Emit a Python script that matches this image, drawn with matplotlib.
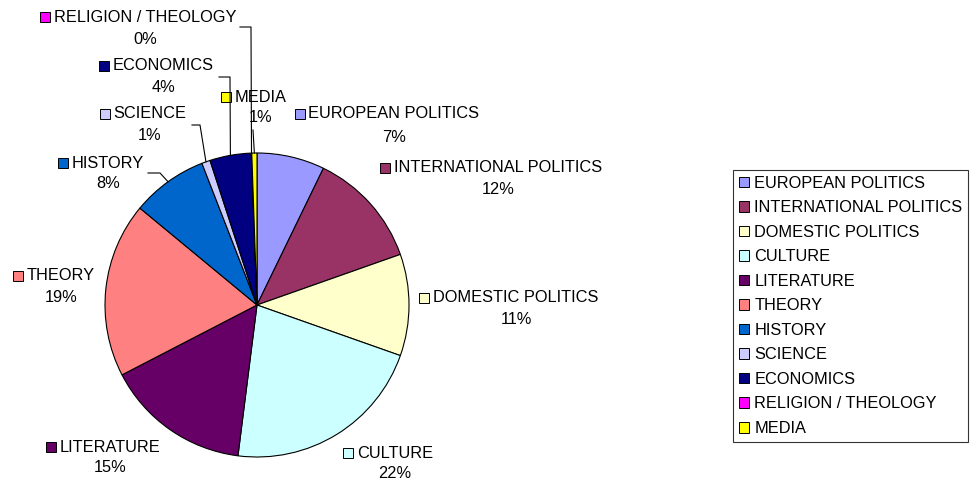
import numpy as np
import matplotlib
matplotlib.use('Agg')
import matplotlib.pyplot as plt
from matplotlib.patches import Patch, Rectangle
from matplotlib.lines import Line2D

# data
categories = ['EUROPEAN POLITICS', 'INTERNATIONAL POLITICS', 'DOMESTIC POLITICS',
              'CULTURE', 'LITERATURE', 'THEORY', 'HISTORY', 'SCIENCE',
              'ECONOMICS', 'RELIGION / THEOLOGY', 'MEDIA']
values = [7.2, 12.4, 10.8, 21.6, 15.4, 18.6, 8.1, 0.9, 4.4, 0.05, 0.55]
colors = ['#9999FF', '#993366', '#FFFFCC', '#CCFFFF', '#660066', '#FF8080',
          '#0066CC', '#CCCCFF', '#000080', '#FF00FF', '#FFFF00']

# label layout in pixels from top-left: (text centre x, name y, percent y)
label_pos = [(394, 114, 137), (498, 168, 190), (516, 298, 319), (395, 453, 473),
             (110, 447, 468), (61, 276, 297), (108, 163, 184), (150, 114, 136),
             (163, 66, 87), (145, 17, 39), (261, 97, 118)]
# leader line elbows (pixels) for the small slices
leaders = {6: [(148, 173), (160, 173)], 7: [(192, 125), (200, 125)],
           8: [(219, 77), (230, 77)], 9: [(240, 27), (251, 27)],
           10: [(253, 130)]}

plt.rcParams['font.family'] = ['Liberation Sans', 'DejaVu Sans']
FS = 11.8

W, H = 975, 483
fig = plt.figure(figsize=(W / 100, H / 100), dpi=100)


def px(x, y):
    return x / W, 1 - y / H


# pie centre (257, 305), radius 152 px
cx, cy, r = 257, 305, 152
ax = fig.add_axes([(cx - r) / W, 1 - (cy + r) / H, 2 * r / W, 2 * r / H])
ax.pie(values, colors=colors, startangle=90, counterclock=False, radius=1,
       wedgeprops=dict(edgecolor='black', linewidth=0.8))
ax.set_xlim(-1, 1)
ax.set_ylim(-1, 1)
ax.axis('off')

total = sum(values)
renderer = fig.canvas.get_renderer()
sq = 10
for i, name in enumerate(categories):
    x, yn, yp = label_pos[i]
    t = fig.text(*px(x, yn), name, ha='center', va='center', fontsize=FS)
    fig.text(*px(x, yp), f'{round(values[i] / total * 100)}%', ha='center',
             va='center', fontsize=FS)
    bb = t.get_window_extent(renderer)
    left = bb.x0 - 4 - sq
    fig.add_artist(Rectangle((left / W, (H - yn - sq / 2) / H), sq / W, sq / H,
                             transform=fig.transFigure, facecolor=colors[i],
                             edgecolor='black', linewidth=0.7))

# leader lines to slice edges
cum = np.cumsum([0] + values)
for i, pts in leaders.items():
    mid = (cum[i] + cum[i + 1]) / 2 / total * 2 * np.pi
    ex, ey = cx + r * np.sin(mid), cy - r * np.cos(mid)
    pts = pts + [(ex, ey)]
    xs = [p[0] / W for p in pts]
    ys = [1 - p[1] / H for p in pts]
    fig.add_artist(Line2D(xs, ys, transform=fig.transFigure, color='black',
                          linewidth=0.8))

handles = [Patch(facecolor=c, edgecolor='black', linewidth=0.7) for c in colors]
leg = fig.legend(handles, categories, loc='upper left', bbox_to_anchor=px(733, 170),
                 bbox_transform=fig.transFigure, fontsize=FS, frameon=True,
                 fancybox=False, edgecolor='black', borderaxespad=0,
                 borderpad=0.35, labelspacing=0.58, handlelength=0.65,
                 handleheight=0.65, handletextpad=0.3)
leg.get_frame().set_linewidth(0.8)

fig.savefig('out.png', dpi=100)
